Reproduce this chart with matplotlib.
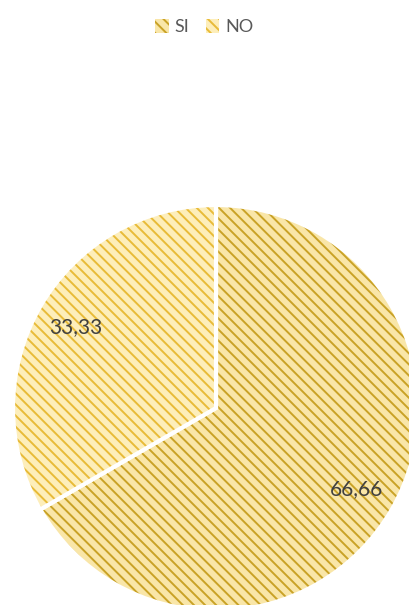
import matplotlib
matplotlib.use("Agg")
import matplotlib.pyplot as plt
from matplotlib.colors import to_rgba

categories = ["SI", "NO"]
values = [66.66, 33.33]

face_colors = ["#f9e6a8", "#fdeeba"]
hatch_colors = ["#c9a226", "#e8bb38"]

plt.rcParams['font.family'] = ['Lato', 'DejaVu Sans']
plt.rcParams['hatch.linewidth'] = 1.4

fig = plt.figure(figsize=(4.09, 6.05), dpi=100)
ax = fig.add_axes([0, 0, 1, 1])

labels = [f"{v:.2f}".replace('.', ',') for v in values]
wedges, texts = ax.pie(values, labels=labels, labeldistance=0.8,
                       startangle=90, counterclock=False,
                       center=(216, 197), radius=203,
                       colors=face_colors,
                       wedgeprops=dict(edgecolor='white', linewidth=3),
                       textprops=dict(fontsize=15, color='#404040'),
                       frame=True)
ax.set_xlim(0, 409)
ax.set_ylim(0, 605)
ax.set_aspect('equal')
ax.axis('off')

# diagonal stripe fill, one stripe colour per slice
for w, hc in zip(wedges, hatch_colors):
    w.set_hatch('\\\\\\')
    w._hatch_color = to_rgba(hc)

for t in texts:
    t.set_ha('center')
    t.set_va('center')

leg = fig.legend(wedges, categories, loc='upper center',
                 bbox_to_anchor=(0.5, 0.995), ncol=2, frameon=False,
                 handlelength=0.75, handleheight=0.75, handletextpad=0.35,
                 columnspacing=0.9, fontsize=13)
for txt in leg.get_texts():
    txt.set_color('#595959')
for h, hc in zip(leg.legend_handles, hatch_colors):
    h.set_edgecolor('none')
    h._hatch_color = to_rgba(hc)

fig.savefig("out.png", dpi=100)
